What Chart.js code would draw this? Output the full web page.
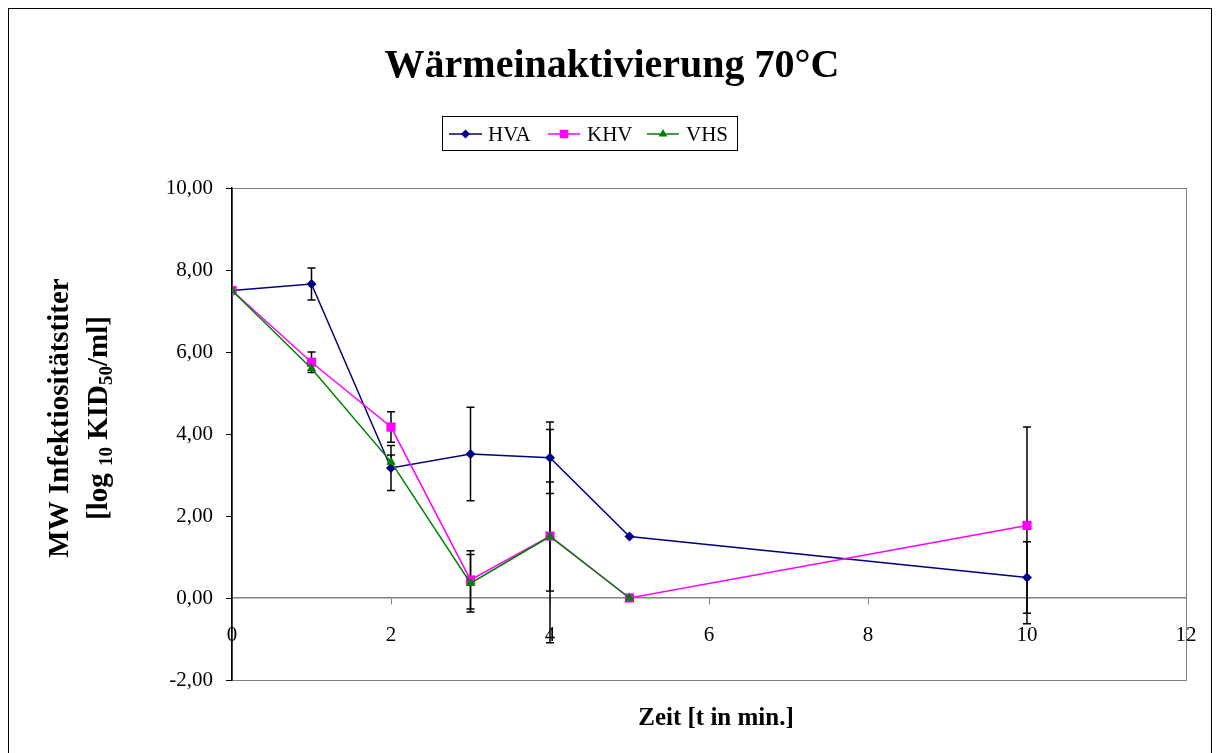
<!DOCTYPE html>
<html lang="de">
<head>
<meta charset="UTF-8">
<title>Wärmeinaktivierung 70°C</title>
<script src="https://cdn.jsdelivr.net/npm/chart.js@4.4.1/dist/chart.umd.min.js"></script>
<style>
	body { margin: 0; background: #fff; }
	#box { width: 1216px; height: 753px; }
</style>
</head>
<body>
<div id="box"><canvas id="myChart"></canvas></div>
<script>
	// Zeitpunkte in Minuten
	const zeit = [0, 1, 2, 3, 4, 5, 10]
	const hva = [7.5, 7.66, 3.17, 3.51, 3.42, 1.5, 0.5]
	const hvaFehler = [0, 0.39, 0.55, 1.14, 0.87, 0, 0.87]
	const khv = [7.5, 5.75, 4.17, 0.44, 1.51, 0, 1.77]
	const khvFehler = [0, 0.25, 0.37, 0.71, 2.6, 0, 2.4]
	const vhs = [7.5, 5.6, 3.32, 0.36, 1.5, 0]
	const vhsFehler = [0, 0, 0.17, 0.7, 1.33, 0]
	const xTicks = [0, 2, 4, 6, 8, 10, 12]
	const yTicks = [-2, 0, 2, 4, 6, 8, 10]

	const serif = "'Liberation Serif', 'Times New Roman', serif"

	function punkte(werte) {
		return werte.map((v, i) => ({ x: zeit[i], y: v }))
	}

	var serien = [
		{ label: 'HVA', data: punkte(hva), err: hvaFehler, borderColor: '#000080', backgroundColor: '#000080', pointStyle: 'rectRot', pointRadius: 5, order: 3 },
		{ label: 'KHV', data: punkte(khv), err: khvFehler, borderColor: '#FF00FF', backgroundColor: '#FF00FF', pointStyle: 'rect', pointRadius: 6.5, order: 2 },
		{ label: 'VHS', data: punkte(vhs), err: vhsFehler, borderColor: '#008000', backgroundColor: '#008000', pointStyle: 'triangle', pointRadius: 5.5, order: 1 }
	]
	serien.forEach(s => {
		s.showLine = true
		s.borderWidth = 1.5
		s.pointBorderWidth = 0
		s.tension = 0
	})

	// Rahmen, Titel, Legende, Achsentitel und Fehlerbalken
	const extras = {
		id: 'extras',
		beforeDraw(chart) {
			const c = chart.ctx, a = chart.chartArea
			c.save()
			c.fillStyle = '#fff'
			c.fillRect(0, 0, chart.width, chart.height)
			c.strokeStyle = '#000'
			c.lineWidth = 1
			c.strokeRect(8.5, 8.5, 1203, 800)
			c.strokeStyle = '#808080'
			c.strokeRect(a.left + 0.5, a.top + 0.5, a.right - a.left, a.bottom - a.top)
			c.restore()
		},
		beforeDatasetsDraw(chart) {
			const c = chart.ctx
			const xs = chart.scales.x, ys = chart.scales.y
			c.save()
			c.strokeStyle = '#000'
			c.lineWidth = 1.5
			serien.forEach(s => {
				s.data.forEach((p, i) => {
					const e = s.err[i]
					if (!e) return
					const px = xs.getPixelForValue(p.x)
					const top = ys.getPixelForValue(p.y + e)
					const bot = ys.getPixelForValue(p.y - e)
					c.beginPath()
					c.moveTo(px, top); c.lineTo(px, bot)
					c.moveTo(px - 4, top); c.lineTo(px + 4, top)
					c.moveTo(px - 4, bot); c.lineTo(px + 4, bot)
					c.stroke()
				})
			})
			c.restore()
		},
		afterDraw(chart) {
			const c = chart.ctx
			c.save()
			c.fillStyle = '#000'
			c.textAlign = 'center'
			c.textBaseline = 'middle'
			c.font = 'bold 40px ' + serif
			c.fillText('Wärmeinaktivierung 70°C', 612, 67)

			c.font = 'bold 25px ' + serif
			c.fillText('Zeit [t in min.]', 716, 719)

			// Legende
			c.strokeStyle = '#000'
			c.lineWidth = 1
			c.strokeRect(442.5, 116.5, 295, 34)
			const eintraege = [[449, 482, 488], [548, 580, 587], [647, 679, 686]]
			c.font = '21px ' + serif
			c.textAlign = 'left'
			eintraege.forEach((e, i) => {
				const s = serien[i]
				c.strokeStyle = s.borderColor
				c.lineWidth = 1.5
				c.beginPath()
				c.moveTo(e[0], 134); c.lineTo(e[1], 134)
				c.stroke()
				c.fillStyle = s.backgroundColor
				Chart.helpers.drawPoint(c, { pointStyle: s.pointStyle, radius: s.pointRadius - 0.5, borderWidth: 0 }, (e[0] + e[1]) / 2, 134)
				c.fillStyle = '#000'
				c.fillText(s.label, e[2], 135)
			})

			// y-Achsentitel, zweizeilig mit Tiefstellung
			c.translate(61, 418)
			c.rotate(-Math.PI / 2)
			c.textAlign = 'center'
			c.font = 'bold 29px ' + serif
			c.fillText('MW Infektiositätstiter', 0, 0)
			const teile = [['[log ', 0], ['10', 1], [' KID', 0], ['50', 1], ['/ml]', 0]]
			const gross = 'bold 29px ' + serif, klein = 'bold 19px ' + serif
			let breite = 0
			teile.forEach(t => { c.font = t[1] ? klein : gross; breite += c.measureText(t[0]).width })
			let x = -breite / 2
			c.textAlign = 'left'
			teile.forEach(t => {
				c.font = t[1] ? klein : gross
				c.fillText(t[0], x, 39 + (t[1] ? 7 : 0))
				x += c.measureText(t[0]).width
			})
			c.restore()
		}
	}

	var ctx = document.getElementById('myChart').getContext('2d')
	var chart = new Chart(ctx, {
		type: 'scatter',
		data: { datasets: serien },
		options: {
			responsive: true,
			maintainAspectRatio: false,
			animation: false,
			layout: { padding: { left: 0, top: 188, right: 30, bottom: 73 } },
			scales: {
				x: {
					type: 'linear',
					position: { y: 0 },
					min: 0,
					max: 12,
					afterBuildTicks(scale) { scale.ticks = xTicks.map(v => ({ value: v })) },
					grid: { drawOnChartArea: false, drawTicks: true, tickLength: 6, color: '#808080' },
					border: { display: true, color: '#808080', width: 1.5 },
					ticks: { color: '#000', padding: 19, maxRotation: 0, font: { family: serif, size: 21 } }
				},
				y: {
					min: -2,
					max: 10,
					afterBuildTicks(scale) { scale.ticks = yTicks.map(v => ({ value: v })) },
					afterFit(scale) { scale.width = 232 },
					grid: { drawOnChartArea: false, drawTicks: true, tickLength: 6, color: '#000' },
					border: { display: true, color: '#000', width: 1.5 },
					ticks: {
						color: '#000',
						padding: 13,
						font: { family: serif, size: 21 },
						callback: v => v.toFixed(2).replace('.', ',')
					}
				}
			},
			plugins: {
				legend: { display: false },
				title: { display: false },
				tooltip: { enabled: false }
			}
		},
		plugins: [extras]
	})
</script>
</body>
</html>
